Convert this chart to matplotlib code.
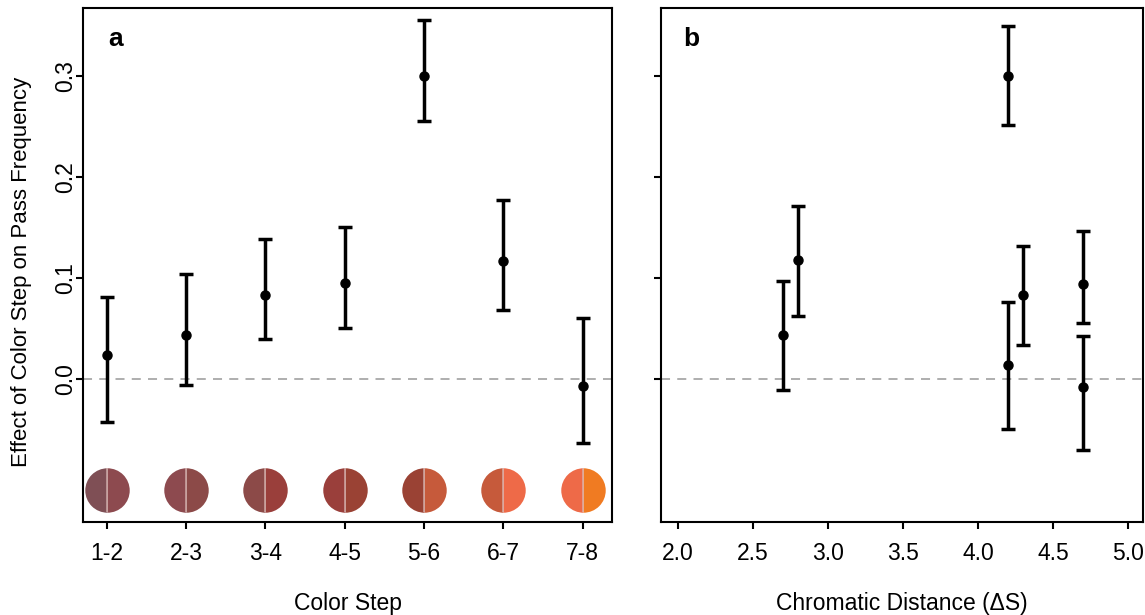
import matplotlib
matplotlib.use("Agg")
import matplotlib.pyplot as plt

plt.rcParams['font.family'] = ['Liberation Sans', 'DejaVu Sans']

# Panel a: effect by colour step
steps = ["1-2", "2-3", "3-4", "4-5", "5-6", "6-7", "7-8"]
effect_a = [0.024, 0.044, 0.083, 0.095, 0.300, 0.117, -0.007]
upper_a = [0.081, 0.104, 0.138, 0.150, 0.355, 0.177, 0.060]
lower_a = [-0.043, -0.006, 0.040, 0.050, 0.255, 0.068, -0.063]

# colours of the 8 stimuli, each step shows a pair
swatch = ["#7f4f55", "#8d4a4f", "#8c4a48", "#9a3f3b", "#9a4234",
          "#c65a3b", "#ee6a48", "#f07b22"]

# Panel b: effect by chromatic distance
dist_b = [2.7, 2.8, 4.2, 4.2, 4.3, 4.7, 4.7]
effect_b = [0.044, 0.118, 0.300, 0.014, 0.083, 0.094, -0.008]
upper_b = [0.097, 0.171, 0.349, 0.076, 0.132, 0.146, 0.043]
lower_b = [-0.011, 0.062, 0.251, -0.049, 0.034, 0.055, -0.070]

fig = plt.figure(figsize=(11.45, 6.15), dpi=100)
ax1 = fig.add_axes([0.0725, 0.151, 0.462, 0.836])
ax2 = fig.add_axes([0.5773, 0.151, 0.421, 0.836])

ylo, yhi = -0.1416, 0.367


def draw_bars(ax, x, y, lo, hi):
    yerr = [[v - l for v, l in zip(y, lo)], [h - v for v, h in zip(y, hi)]]
    ax.errorbar(x, y, yerr=yerr, fmt='o', color='black', ms=6.5,
                elinewidth=2.5, capsize=5, capthick=2.5, zorder=3)
    ax.axhline(0, color='#a8a8a8', ls=(0, (5, 4)), lw=1.3, zorder=1)


xa = list(range(1, len(steps) + 1))
draw_bars(ax1, xa, effect_a, lower_a, upper_a)
for i, x in enumerate(xa):
    ax1.plot(x, -0.110, 'o', fillstyle='left', ms=32, mew=0,
             markerfacecolor=swatch[i], markerfacecoloralt=swatch[i + 1], zorder=2)
    ax1.plot(x, -0.110, '|', ms=32, mew=1.2, color='#d9b8b4', alpha=0.8, zorder=2)

ax1.set_xlim(0.70, 7.37)
ax1.set_xticks(xa)
ax1.set_xticklabels(steps)
ax1.set_xlabel("Color Step", fontsize=16.5, labelpad=19)
ax1.set_ylabel("Effect of Color Step on Pass Frequency", fontsize=16)
ax1.yaxis.set_label_coords(-0.097, 0.486)

draw_bars(ax2, dist_b, effect_b, lower_b, upper_b)
ax2.set_xlim(1.887, 5.1)
ax2.set_xticks([2.0, 2.5, 3.0, 3.5, 4.0, 4.5, 5.0])
ax2.set_xticklabels(["2.0", "2.5", "3.0", "3.5", "4.0", "4.5", "5.0"])
ax2.set_xlabel("Chromatic Distance (\u0394S)", fontsize=16.5, labelpad=19)

for ax, letter in [(ax1, "a"), (ax2, "b")]:
    ax.set_ylim(ylo, yhi)
    ax.set_yticks([0.0, 0.1, 0.2, 0.3])
    ax.set_yticklabels(["0.0", "0.1", "0.2", "0.3"], rotation=90, va='center')
    ax.tick_params(direction='out', length=5, width=1.5, labelsize=16.5, pad=9.5)
    ax.tick_params(axis='y', pad=-1)
    for s in ax.spines.values():
        s.set_linewidth(1.5)
    ax.text(0.062, 0.94, letter, transform=ax.transAxes, fontsize=19,
            fontweight='bold', va='center', ha='center')

ax2.tick_params(axis='y', labelleft=False)

fig.savefig("out.png", dpi=100)
